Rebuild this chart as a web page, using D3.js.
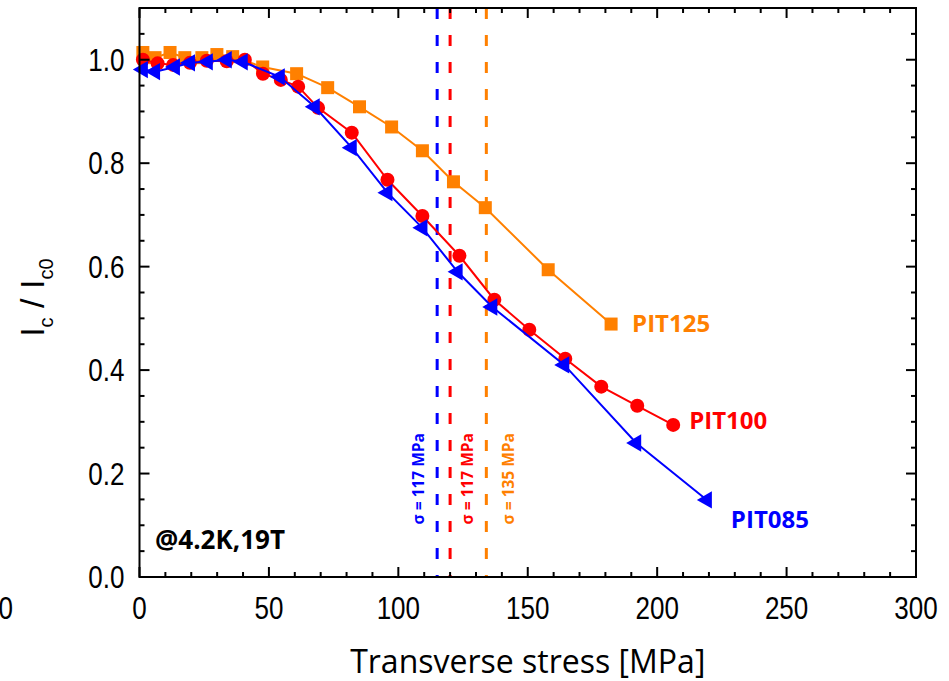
<!DOCTYPE html>
<html>
<head>
<meta charset="utf-8">
<script src="https://cdn.jsdelivr.net/npm/d3@7"></script>
<style>
  body { margin: 0; background: #fff; }
</style>
</head>
<body>
<div id="chart"></div>
<script>
// values
const stressPIT125 = [1.3, 6, 11.8, 17.5, 24.1, 29.9, 36, 47.6, 60.7, 72.7, 85, 97.4, 109.3, 121.3, 133.6, 157.9, 182.2];
const icPIT125 = [1.014, 1.004, 1.014, 1.004, 1.004, 1.01, 1.006, 0.986, 0.973, 0.946, 0.909, 0.870, 0.824, 0.764, 0.714, 0.594, 0.489];

const stressPIT100 = [1.3, 7, 13, 19.5, 26, 33.7, 40.7, 47.7, 54.6, 61.3, 69, 82, 95.8, 109.3, 123.6, 137.1, 150.6, 164.5, 178.4, 192.3, 206.2];
const icPIT100 = [1.0, 0.993, 0.99, 0.994, 0.998, 0.997, 1.0, 0.973, 0.961, 0.948, 0.907, 0.859, 0.768, 0.698, 0.621, 0.536, 0.478, 0.422, 0.368, 0.331, 0.294];

const stressPIT085 = [1.3, 6, 13.7, 19.5, 26.4, 33.7, 39.9, 54.2, 67.7, 82, 95.8, 109.3, 122.9, 136.3, 164.1, 191.9, 219.2];
const icPIT085 = [0.981, 0.977, 0.986, 0.994, 0.996, 1.0, 0.996, 0.967, 0.909, 0.830, 0.743, 0.675, 0.590, 0.522, 0.410, 0.259, 0.149];

const seriesNames = ["PIT125", "PIT100", "PIT085"];
const criticalStress = [115, 120, 134];
const criticalLabels = ["σ = 117 MPa", "σ = 117 MPa", "σ = 135 MPa"];

const xTickValues = [0, 50, 100, 150, 200, 250, 300];
const yTickValues = [0, 0.2, 0.4, 0.6, 0.8, 1.0];

const width = 949, height = 681;
const marginLeft = 139.5, marginRight = 33, marginTop = 8, marginBottom = 104;

const series = [
    { name: seriesNames[0], x: stressPIT125, y: icPIT125, color: "#ff8000", symbol: "square", dx: 21, dy: 8 },
    { name: seriesNames[1], x: stressPIT100, y: icPIT100, color: "#ff0000", symbol: "circle", dx: 16, dy: 4 },
    { name: seriesNames[2], x: stressPIT085, y: icPIT085, color: "#0000ff", symbol: "triangle", dx: 24, dy: 28 },
];

const xScale = d3.scaleLinear([0, 300], [marginLeft, width - marginRight]);
const yScale = d3.scaleLinear([0, 1.1], [height - marginBottom, marginTop]);

const svg = d3.create("svg")
    .attr("width", width)
    .attr("height", height)
    .attr("viewBox", [0, 0, width, height]);

// dashed stress markers
criticalStress.forEach((s, i) => {
    svg.append("line")
        .attr("x1", xScale(s)).attr("x2", xScale(s))
        .attr("y1", yScale(1.1)).attr("y2", yScale(0))
        .attr("stroke", series[2 - i].color)
        .attr("stroke-width", 3)
        .attr("stroke-dasharray", "11,16");
});

const labelShift = [-13, 23, 28];
criticalStress.forEach((s, i) => {
    const lx = xScale(s) + labelShift[i];
    svg.append("text")
        .attr("transform", `translate(${lx},${yScale(0.19)}) rotate(-90)`)
        .attr("text-anchor", "middle")
        .attr("font-family", "Open Sans")
        .attr("font-weight", "bold")
        .attr("font-size", 15.5)
        .attr("fill", series[2 - i].color)
        .text(criticalLabels[i]);
});

const line = d3.line()
    .x(d => xScale(d[0]))
    .y(d => yScale(d[1]));

series.forEach(sr => {
    const pts = sr.x.map((v, i) => [v, sr.y[i]]);
    const g = svg.append("g");
    g.append("path")
        .attr("fill", "none")
        .attr("stroke", sr.color)
        .attr("stroke-width", 2)
        .attr("d", line(pts));

    if (sr.symbol === "circle") {
        g.selectAll("circle").data(pts).join("circle")
            .attr("cx", d => xScale(d[0]))
            .attr("cy", d => yScale(d[1]))
            .attr("r", 7)
            .attr("fill", sr.color);
    } else if (sr.symbol === "square") {
        g.selectAll("rect").data(pts).join("rect")
            .attr("x", d => xScale(d[0]) - 6.5)
            .attr("y", d => yScale(d[1]) - 6.5)
            .attr("width", 13).attr("height", 13)
            .attr("fill", sr.color);
    } else {
        const tri = d3.symbol(d3.symbolTriangle, 130);
        g.selectAll("path.tri").data(pts).join("path")
            .attr("class", "tri")
            .attr("transform", d => `translate(${xScale(d[0])},${yScale(d[1])}) rotate(-90)`)
            .attr("d", tri)
            .attr("fill", sr.color);
    }

    const last = pts[pts.length - 1];
    svg.append("text")
        .attr("x", xScale(last[0]) + sr.dx)
        .attr("y", yScale(last[1]) + sr.dy)
        .attr("font-family", "Open Sans")
        .attr("font-weight", "bold")
        .attr("font-size", 24)
        .attr("fill", sr.color)
        .text(sr.name);
});

// frame with inward ticks
const frame = svg.append("g").attr("stroke", "black").attr("stroke-width", 2);
const x0 = xScale(0), x1 = xScale(300), y0 = yScale(0), y1 = yScale(1.1);
frame.append("rect")
    .attr("x", x0).attr("y", y1)
    .attr("width", x1 - x0).attr("height", y0 - y1)
    .attr("fill", "none");

d3.range(0, 301, 10).forEach(v => {
    const len = v % 50 === 0 ? 10 : 5;
    frame.append("line").attr("x1", xScale(v)).attr("x2", xScale(v)).attr("y1", y0).attr("y2", y0 - len);
    frame.append("line").attr("x1", xScale(v)).attr("x2", xScale(v)).attr("y1", y1).attr("y2", y1 + len);
});
d3.range(0, 22).forEach(k => {
    const v = k * 0.05;
    const len = k % 4 === 0 ? 10 : 5;
    frame.append("line").attr("y1", yScale(v)).attr("y2", yScale(v)).attr("x1", x0).attr("x2", x0 + len);
    frame.append("line").attr("y1", yScale(v)).attr("y2", yScale(v)).attr("x1", x1).attr("x2", x1 - len);
});

// tick labels: narrow sans, done by squeezing Liberation Sans horizontally
const tickFont = "Liberation Sans";
const squeeze = 0.84;
svg.append("g").selectAll("text").data(xTickValues).join("text")
    .attr("transform", d => `translate(${xScale(d)},${y0 + 42}) scale(${squeeze},1)`)
    .attr("text-anchor", "middle")
    .attr("font-family", tickFont)
    .attr("font-size", 31)
    .text(d => d);
// stray label at the left edge
svg.append("text")
    .attr("transform", `translate(${xScale(-50) + 3},${y0 + 42}) scale(${squeeze},1)`)
    .attr("text-anchor", "end")
    .attr("font-family", tickFont)
    .attr("font-size", 31)
    .text("0");

svg.append("g").selectAll("text").data(yTickValues).join("text")
    .attr("transform", d => `translate(${x0 - 15},${yScale(d) + 11}) scale(${squeeze},1)`)
    .attr("text-anchor", "end")
    .attr("font-family", tickFont)
    .attr("font-size", 31)
    .text(d => d.toFixed(1));

// axis titles
svg.append("text")
    .attr("x", (x0 + x1) / 2)
    .attr("y", 673)
    .attr("text-anchor", "middle")
    .attr("font-family", "Open Sans")
    .attr("font-size", 32)
    .text("Transverse stress [MPa]");

const yTitle = svg.append("text")
    .attr("transform", `translate(44,${yScale(0.54)}) rotate(-90)`)
    .attr("text-anchor", "middle")
    .attr("font-family", "Liberation Sans")
    .attr("font-size", 34);
yTitle.append("tspan").text("I");
yTitle.append("tspan").attr("font-size", 20).attr("dy", 9).text("c");
yTitle.append("tspan").attr("dy", -9).text(" / I");
yTitle.append("tspan").attr("font-size", 20).attr("dy", 9).text("c0");

svg.append("text")
    .attr("x", xScale(6))
    .attr("y", yScale(0.055))
    .attr("font-family", "Open Sans")
    .attr("font-weight", "bold")
    .attr("font-size", 26)
    .text("@4.2K,19T");

document.getElementById("chart").appendChild(svg.node());
</script>
</body>
</html>
